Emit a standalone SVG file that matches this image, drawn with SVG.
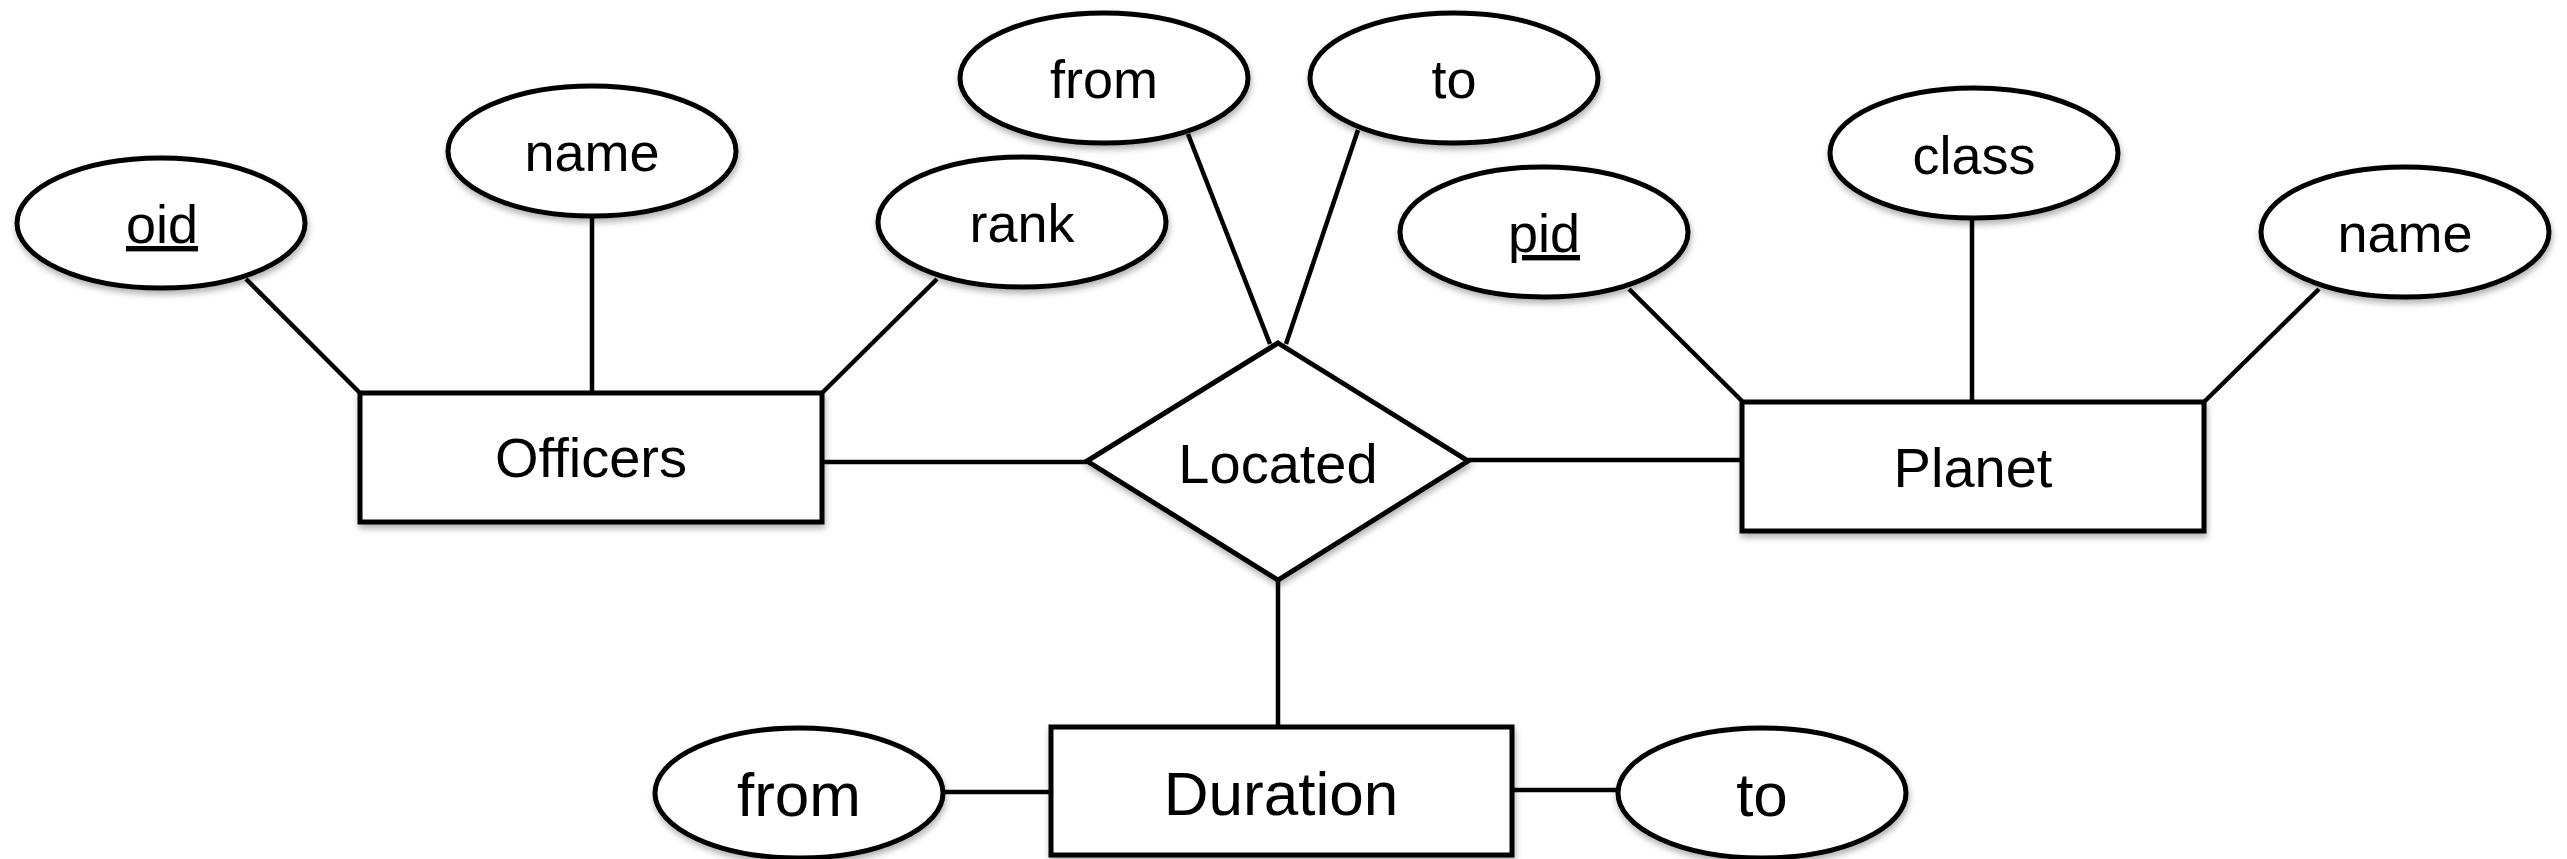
<svg xmlns="http://www.w3.org/2000/svg" width="2567" height="859" viewBox="0 0 2567 859">
<style>
.shape{fill:#fff;stroke:#000;stroke-width:5;filter:url(#sh)}
.conn line{stroke:#000;stroke-width:4.5;stroke-linecap:butt}
text{font-family:"Liberation Sans",Arial,sans-serif;fill:#000;text-anchor:middle}
.attr{font-size:54px}
.ent{font-size:56px}
.big{font-size:62px}
.key{text-decoration:underline}
</style>
<defs>
<filter id="sh" x="-10%" y="-10%" width="125%" height="130%">
<feDropShadow dx="1" dy="4" stdDeviation="3" flood-color="#000" flood-opacity="0.3"/>
</filter>
</defs>
<rect width="2567" height="859" fill="#fff"/>
<g id="connectors" class="conn">
<line x1="246" y1="279" x2="360" y2="393"/>
<line x1="592" y1="217" x2="592" y2="393"/>
<line x1="937" y1="279" x2="822" y2="393"/>
<line x1="1188" y1="134" x2="1270" y2="344"/>
<line x1="1358" y1="130" x2="1286" y2="344"/>
<line x1="1629" y1="289" x2="1742" y2="401"/>
<line x1="1972" y1="218" x2="1972" y2="402"/>
<line x1="2319" y1="289" x2="2204" y2="402"/>
<line x1="822" y1="462" x2="1087" y2="462"/>
<line x1="1468" y1="460" x2="1742" y2="460"/>
<line x1="1278" y1="580" x2="1278" y2="727"/>
<line x1="943" y1="792" x2="1051" y2="792"/>
<line x1="1512" y1="790" x2="1618" y2="790"/>
</g>
<g id="officers"><rect class="shape" x="360" y="393" width="462" height="129"/><text class="ent" x="591" y="477">Officers</text></g>
<g id="located"><polygon class="shape" points="1278,343 1468,461 1278,580 1087,461"/><text class="ent" x="1278" y="483">Located</text></g>
<g id="planet"><rect class="shape" x="1742" y="402" width="462" height="129"/><text class="ent" x="1973" y="487">Planet</text></g>
<g id="duration"><rect class="shape" x="1051" y="727" width="461" height="128"/><text class="big" x="1281" y="815">Duration</text></g>
<g id="oid"><ellipse class="shape" cx="161" cy="223" rx="144" ry="65"/><text class="attr key" x="162" y="243">oid</text></g>
<g id="officer-name"><ellipse class="shape" cx="592" cy="151" rx="144" ry="65"/><text class="attr" x="592" y="171">name</text></g>
<g id="rank"><ellipse class="shape" cx="1022" cy="222" rx="144" ry="65"/><text class="attr" x="1022" y="242">rank</text></g>
<g id="located-from"><ellipse class="shape" cx="1104" cy="78" rx="144" ry="65"/><text class="attr" x="1104" y="98">from</text></g>
<g id="located-to"><ellipse class="shape" cx="1454" cy="78" rx="144" ry="65"/><text class="attr" x="1454" y="98">to</text></g>
<g id="pid"><ellipse class="shape" cx="1544" cy="232" rx="144" ry="65"/><text class="attr key" x="1544" y="252">pid</text></g>
<g id="class"><ellipse class="shape" cx="1974" cy="153" rx="144" ry="65"/><text class="attr" x="1974" y="174">class</text></g>
<g id="planet-name"><ellipse class="shape" cx="2405" cy="232" rx="144" ry="65"/><text class="attr" x="2405" y="252">name</text></g>
<g id="duration-from"><ellipse class="shape" cx="799" cy="793" rx="144" ry="65"/><text class="big" x="799" y="816">from</text></g>
<g id="duration-to"><ellipse class="shape" cx="1762" cy="793" rx="144" ry="65"/><text class="big" x="1762" y="816">to</text></g>
</svg>
